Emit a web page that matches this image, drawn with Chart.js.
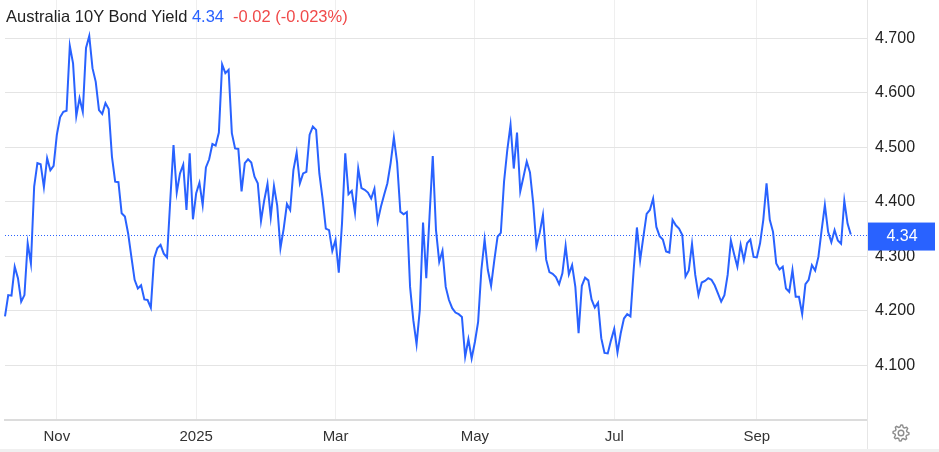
<!DOCTYPE html>
<html><head><meta charset="utf-8">
<script src="https://cdn.jsdelivr.net/npm/chart.js@4.4.1/dist/chart.umd.min.js"></script>
<style>
html,body{margin:0;padding:0;background:#fff;}
#wrap{position:relative;width:939px;height:452px;overflow:hidden;font-family:"Liberation Sans",Arial,sans-serif;}
canvas{position:absolute;left:0;top:0;}
#title{position:absolute;left:6px;top:6px;font-size:16.5px;line-height:20px;color:#222;white-space:nowrap;}
#title .v{color:#2962ff;}
#title .c{color:#f04a4a;margin-left:9px;}
</style></head>
<body><div id="wrap"><canvas id="c" width="939" height="452"></canvas>
<div id="title">Australia 10Y Bond Yield <span class="v">4.34</span><span class="c">-0.02 (-0.023%)</span></div>
</div>
<script>
// ---- data ----
const startDate = '2024-10-10';          // first trading day shown
const extraDays = 5;                     // empty trading days to the right of the last point
const tickMonths = ['2024-11', '2025-01', '2025-03', '2025-05', '2025-07', '2025-09'];
const tickLabels = ['Nov', '2025', 'Mar', 'May', 'Jul', 'Sep'];
const yTicks = [4.1, 4.2, 4.3, 4.4, 4.5, 4.6, 4.7];
const lastValue = 4.34;
const yields = [
 4.190, 4.229, 4.228, 4.281, 4.260, 4.217, 4.229, 4.324, 4.287, 4.428,
 4.471, 4.469, 4.427, 4.480, 4.458, 4.466, 4.523, 4.555, 4.565, 4.567,
 4.686, 4.654, 4.557, 4.590, 4.565, 4.682, 4.704, 4.645, 4.620, 4.568,
 4.561, 4.581, 4.570, 4.483, 4.437, 4.436, 4.379, 4.373, 4.342, 4.299,
 4.257, 4.241, 4.247, 4.221, 4.220, 4.206, 4.296, 4.315, 4.321, 4.305,
 4.298, 4.403, 4.504, 4.417,
 4.452, 4.468, 4.385, 4.489, 4.368, 4.416, 4.435, 4.394, 4.463, 4.478,
 4.506, 4.503, 4.527, 4.652, 4.636, 4.642, 4.526, 4.498, 4.497, 4.419,
 4.471, 4.478, 4.472, 4.446, 4.434, 4.365, 4.403, 4.433, 4.372, 4.429,
 4.393, 4.315, 4.351, 4.396, 4.385, 4.458, 4.490, 4.434, 4.452, 4.455,
 4.523, 4.538, 4.532, 4.452, 4.406, 4.351, 4.348, 4.310, 4.330, 4.270,
 4.361, 4.489, 4.414, 4.420,
 4.380, 4.461, 4.425, 4.422, 4.417, 4.406, 4.424, 4.364, 4.391, 4.413,
 4.434, 4.471, 4.518, 4.472, 4.382, 4.377, 4.381, 4.244, 4.183, 4.139,
 4.202, 4.362, 4.260, 4.373, 4.484, 4.348, 4.290, 4.310, 4.244, 4.220,
 4.205, 4.197, 4.194, 4.189, 4.116, 4.148, 4.113, 4.143, 4.180, 4.275,
 4.331, 4.275, 4.246, 4.293, 4.336, 4.343, 4.437, 4.495, 4.541, 4.461,
 4.527, 4.419, 4.446, 4.474,
 4.454, 4.397, 4.318, 4.343, 4.376, 4.294, 4.271, 4.268, 4.262, 4.249,
 4.269, 4.319, 4.267, 4.284, 4.244, 4.159, 4.246, 4.261, 4.256, 4.221,
 4.206, 4.215, 4.150, 4.123, 4.122, 4.146, 4.167, 4.124, 4.159, 4.186,
 4.194, 4.190, 4.275, 4.353, 4.293, 4.336, 4.378, 4.385, 4.406, 4.354,
 4.337, 4.331, 4.309, 4.307, 4.367, 4.357, 4.351, 4.339, 4.263, 4.274,
 4.323, 4.266, 4.229, 4.252,
 4.255, 4.260, 4.257, 4.247, 4.232, 4.217, 4.229, 4.266, 4.329, 4.304,
 4.281, 4.321, 4.293, 4.324, 4.331, 4.299, 4.298, 4.324, 4.367, 4.434,
 4.367, 4.345, 4.287, 4.276, 4.281, 4.241, 4.235, 4.275, 4.226, 4.226,
 4.194, 4.249, 4.257, 4.284, 4.274, 4.299, 4.348, 4.394, 4.345, 4.326,
 4.348, 4.329, 4.323, 4.402, 4.360, 4.340
];

// ---- trading-day categories (weekdays from startDate) ----
const dates = [];
{
  const d = new Date(startDate + 'T00:00:00Z');
  while (dates.length < yields.length + extraDays) {
    const wd = d.getUTCDay();
    if (wd !== 0 && wd !== 6) dates.push(d.toISOString().slice(0, 10));
    d.setUTCDate(d.getUTCDate() + 1);
  }
}
const monthTickIndex = {};
dates.forEach((s, i) => {
  const ym = s.slice(0, 7);
  const k = tickMonths.indexOf(ym);
  if (k >= 0 && !(ym in monthTickIndex)) monthTickIndex[ym] = i;
});
const tickAt = {};
tickMonths.forEach((m, k) => { if (m in monthTickIndex) tickAt[monthTickIndex[m]] = tickLabels[k]; });

const FONT = '"Liberation Sans", Arial, sans-serif';
const BLUE = '#2962ff';

const overlay = {
  id: 'overlay',
  beforeDatasetsDraw(chart) {
    const {ctx, chartArea} = chart;
    const y = Math.round(chart.scales.y.getPixelForValue(lastValue)) + 0.5;
    ctx.save();
    ctx.strokeStyle = BLUE;
    ctx.lineWidth = 1;
    ctx.setLineDash([1, 2]);
    ctx.beginPath();
    ctx.moveTo(chartArea.left, y);
    ctx.lineTo(chartArea.right, y);
    ctx.stroke();
    ctx.restore();
  },
  afterDraw(chart) {
    const {ctx, chartArea} = chart;
    const y = chart.scales.y.getPixelForValue(lastValue);
    ctx.save();
    ctx.strokeStyle = '#e6e6e6';
    ctx.lineWidth = 1;
    ctx.beginPath();
    ctx.moveTo(chartArea.right + 0.5, 0);
    ctx.lineTo(chartArea.right + 0.5, 452);
    ctx.stroke();
    ctx.fillStyle = '#f0f0f0';
    ctx.fillRect(0, 449, 939, 3);
    ctx.fillStyle = BLUE;
    ctx.fillRect(chartArea.right + 1, y - 12, 67, 28);
    ctx.fillStyle = '#ffffff';
    ctx.font = '16px ' + FONT;
    ctx.textAlign = 'center';
    ctx.textBaseline = 'middle';
    ctx.fillText(lastValue.toFixed(2), chartArea.right + 35, y + 2);
    const cx = 901, cy = 433, teeth = 8;
    ctx.strokeStyle = '#8c8c8c';
    ctx.lineWidth = 1.4;
    ctx.beginPath();
    for (let i = 0; i < teeth * 4; i++) {
      const a = (i / (teeth * 4)) * Math.PI * 2 - Math.PI / 2;
      const r = (i % 4 === 0 || i % 4 === 1) ? 8 : 6;
      const px = cx + r * Math.cos(a), py = cy + r * Math.sin(a);
      if (i === 0) ctx.moveTo(px, py); else ctx.lineTo(px, py);
    }
    ctx.closePath();
    ctx.stroke();
    ctx.beginPath();
    ctx.arc(cx, cy, 2.8, 0, Math.PI * 2);
    ctx.stroke();
    ctx.restore();
  }
};

new Chart(document.getElementById('c'), {
  type: 'line',
  data: {
    labels: dates,
    datasets: [{
      data: yields,
      borderColor: BLUE,
      borderWidth: 2,
      pointRadius: 0,
      tension: 0,
      fill: false
    }]
  },
  options: {
    responsive: false,
    animation: false,
    devicePixelRatio: 1,
    layout: { padding: { left: 5, right: 0, top: 0, bottom: 0 } },
    plugins: { legend: { display: false }, tooltip: { enabled: false } },
    scales: {
      x: {
        type: 'category',
        offset: false,
        afterFit(s) { s.height = 32; s.paddingLeft = 0; s.paddingRight = 0; },
        border: { display: true, color: '#dcdcdc', width: 2 },
        grid: {
          drawTicks: false,
          color: (c) => (c.index in tickAt) ? '#efefef' : 'rgba(0,0,0,0)'
        },
        ticks: {
          autoSkip: false,
          maxRotation: 0,
          padding: 8,
          color: '#333',
          font: { family: FONT, size: 15 },
          callback: (v, i) => tickAt[i] || ''
        }
      },
      y: {
        position: 'right',
        min: 4.0,
        max: 4.77,
        afterFit(s) { s.width = 72; s.paddingTop = 0; s.paddingBottom = 0; },
        afterBuildTicks(s) { s.ticks = [4.0].concat(yTicks).map(v => ({value: v})); },
        border: { display: true, color: '#e6e6e6' },
        grid: { drawTicks: false, color: '#e4e4e4' },
        ticks: {
          padding: 8,
          crossAlign: 'near',
          color: '#222',
          font: { family: FONT, size: 16 },
          callback: (v) => v < 4.05 ? '' : v.toFixed(3)
        }
      }
    }
  },
  plugins: [overlay]
});
</script>
</body></html>
